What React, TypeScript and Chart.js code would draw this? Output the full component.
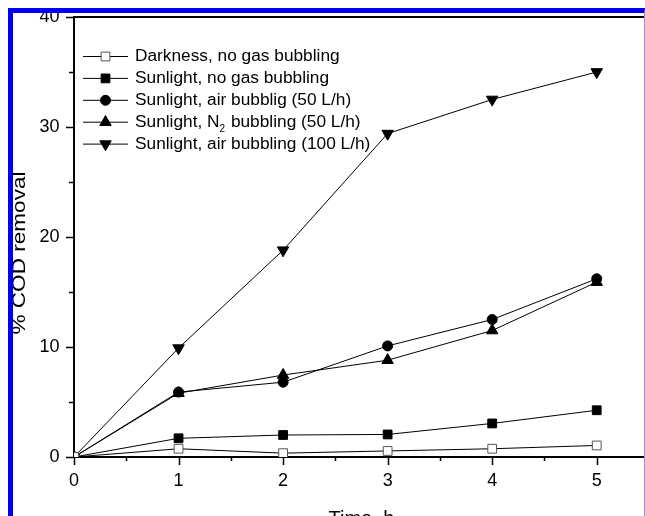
import React, { useEffect, useRef } from 'react';
import { Chart, registerables } from 'chart.js';

Chart.register(...registerables);

const hours = [0, 1, 2, 3, 4, 5];
const darkness = [0, 0.75, 0.35, 0.55, 0.75, 1.05];
const sunNoGas = [0, 1.7, 2.0, 2.05, 3.05, 4.25];
const sunAir50 = [0, 5.9, 6.8, 10.1, 12.5, 16.2];
const sunN2 = [0, 5.8, 7.45, 8.8, 11.5, 15.9];
const sunAir100 = [0, 9.9, 18.8, 29.4, 32.5, 35.0];
const seriesLabels = [
  'Darkness, no gas bubbling',
  'Sunlight, no gas bubbling',
  'Sunlight, air bubblig (50 L/h)',
  'Sunlight, N₂ bubbling (50 L/h)',
  'Sunlight, air bubbling (100 L/h)',
];
const xTicks = [0, 1, 2, 3, 4, 5];
const yTicks = [0, 10, 20, 30, 40];
const xTitle = 'Time, h';
const yTitle = '% COD removal';

const FONT = "'Liberation Sans', Arial, sans-serif";

type Marker = { style: string; rotation: number; radius: number; fill: string; stroke: string };

function drawMarker(ctx: CanvasRenderingContext2D, x: number, y: number, m: Marker) {
  ctx.save();
  ctx.fillStyle = m.fill;
  ctx.strokeStyle = m.stroke;
  ctx.lineWidth = 1;
  ctx.beginPath();
  const r = m.radius;
  if (m.style === 'rect') {
    const s = Math.SQRT1_2 * r;
    ctx.rect(x - s, y - s, 2 * s, 2 * s);
  } else if (m.style === 'circle') {
    ctx.arc(x, y, r, 0, Math.PI * 2);
  } else if (m.style === 'triangle') {
    let rad = (m.rotation * Math.PI) / 180;
    ctx.moveTo(x + Math.sin(rad) * r, y - Math.cos(rad) * r);
    rad += (2 * Math.PI) / 3;
    ctx.lineTo(x + Math.sin(rad) * r, y - Math.cos(rad) * r);
    rad += (2 * Math.PI) / 3;
    ctx.lineTo(x + Math.sin(rad) * r, y - Math.cos(rad) * r);
    ctx.closePath();
  }
  ctx.fill();
  ctx.stroke();
  ctx.restore();
}

const legendPlugin = {
  id: 'lineMarkerLegend',
  afterDatasetsDraw(chart: any) {
    const { ctx, chartArea: a } = chart;
    ctx.save();
    chart.data.datasets.forEach((ds: any, i: number) => {
      const yy = a.top + 39.5 + i * 21.9;
      const x0 = a.left + 9;
      const x1 = a.left + 54;
      ctx.strokeStyle = '#000';
      ctx.lineWidth = 1;
      ctx.beginPath();
      ctx.moveTo(x0, yy);
      ctx.lineTo(x1, yy);
      ctx.stroke();
      drawMarker(ctx, (x0 + x1) / 2, yy, {
        style: ds.pointStyle,
        rotation: ds.pointRotation || 0,
        radius: ds.pointRadius,
        fill: ds.pointBackgroundColor,
        stroke: ds.pointBorderColor,
      });
      ctx.fillStyle = '#000';
      ctx.textBaseline = 'middle';
      ctx.textAlign = 'left';
      const label: string = ds.label;
      const parts = label.split('₂');
      let tx = a.left + 61;
      ctx.font = `17.3px ${FONT}`;
      parts.forEach((p, k) => {
        if (k > 0) {
          ctx.font = `10px ${FONT}`;
          ctx.fillText('2', tx, yy + 7);
          tx += ctx.measureText('2').width + 1;
          ctx.font = `17.3px ${FONT}`;
        }
        ctx.fillText(p, tx, yy);
        tx += ctx.measureText(p).width;
      });
    });
    ctx.restore();
  },
};

const axisDecor = {
  id: 'axisDecor',
  afterDraw(chart: any) {
    const { ctx, chartArea: a, scales } = chart;
    const x = scales.x;
    const y = scales.y;
    ctx.save();
    ctx.strokeStyle = '#000';
    ctx.lineWidth = 2;
    ctx.beginPath();
    ctx.moveTo(a.left - 1, a.top);
    ctx.lineTo(a.right, a.top);
    ctx.stroke();
    ctx.lineWidth = 1.5;
    for (let v = 0; v <= 40; v += 5) {
      const py = Math.round(y.getPixelForValue(v)) + 0.5;
      const len = v % 10 === 0 ? 8 : 5;
      ctx.beginPath();
      ctx.moveTo(a.left - len, py);
      ctx.lineTo(a.left, py);
      ctx.stroke();
    }
    for (let v = 0; v <= 5.5; v += 0.5) {
      const px = Math.round(x.getPixelForValue(v)) + 0.5;
      const len = Number.isInteger(v) ? 8 : 4;
      ctx.beginPath();
      ctx.moveTo(px, a.bottom);
      ctx.lineTo(px, a.bottom + len);
      ctx.stroke();
    }
    // y axis title (stretched along its length like the original)
    ctx.save();
    ctx.translate(20, (a.top + a.bottom) / 2 + 16);
    ctx.rotate(-Math.PI / 2);
    ctx.scale(1.22, 1);
    ctx.font = `18.5px ${FONT}`;
    ctx.fillStyle = '#000';
    ctx.textAlign = 'center';
    ctx.textBaseline = 'middle';
    ctx.fillText(yTitle, 0, 0);
    ctx.restore();
    ctx.restore();
  },
};

function mk(label: string, data: number[], style: string, fill: string, radius: number, rotation = 0) {
  return {
    label,
    data: hours.map((h, i) => ({ x: h, y: data[i] })),
    borderColor: '#000',
    borderWidth: 1,
    pointStyle: style,
    pointRotation: rotation,
    pointRadius: radius,
    pointBackgroundColor: fill,
    pointBorderColor: fill === '#fff' ? '#555' : '#000',
    pointBorderWidth: 1,
    fill: false,
    tension: 0,
  };
}

export default function App() {
  const ref = useRef<HTMLCanvasElement>(null);
  useEffect(() => {
    if (!ref.current) return;
    const chart = new Chart(ref.current, {
      type: 'line',
      data: {
        datasets: [
          mk(seriesLabels[0], darkness, 'rect', '#fff', 6.2),
          mk(seriesLabels[1], sunNoGas, 'rect', '#000', 6.2),
          mk(seriesLabels[2], sunAir50, 'circle', '#000', 5),
          mk(seriesLabels[3], sunN2, 'triangle', '#000', 6.6),
          mk(seriesLabels[4], sunAir100, 'triangle', '#000', 6.6, 180),
        ] as any,
      },
      options: {
        animation: false,
        responsive: false,
        devicePixelRatio: 1,
        layout: { padding: { left: 0, top: 17, right: 51, bottom: 9 } },
        plugins: { legend: { display: false }, tooltip: { enabled: false } },
        scales: {
          x: {
            type: 'linear',
            min: 0,
            max: 5.5,
            afterBuildTicks: (s: any) => {
              s.ticks = xTicks.map((v) => ({ value: v }));
            },
            afterFit: (s: any) => {
              s.height = 74;
              s.paddingLeft = 0;
              s.paddingRight = 0;
            },
            grid: { display: false, drawTicks: false },
            border: { display: true, color: '#000', width: 2 },
            ticks: { color: '#000', padding: 13, font: { family: FONT, size: 18 }, maxRotation: 0 },
            title: { display: true, text: xTitle, color: '#000', font: { family: FONT, size: 20 }, padding: { top: 0, bottom: 0 } },
          },
          y: {
            type: 'linear',
            min: 0,
            max: 40,
            afterBuildTicks: (s: any) => {
              s.ticks = yTicks.map((v) => ({ value: v }));
            },
            afterFit: (s: any) => {
              s.width = 74;
              s.paddingTop = 0;
              s.paddingBottom = 0;
            },
            grid: { display: false, drawTicks: false },
            border: { display: true, color: '#000', width: 2 },
            ticks: { color: '#000', padding: 14.5, font: { family: FONT, size: 18 } },
            title: { display: false, text: yTitle },
          },
        },
      } as any,
      plugins: [axisDecor, legendPlugin],
    });
    return () => chart.destroy();
  }, []);

  return (
    <div style={{ position: 'fixed', left: 0, top: 0, width: 645, height: 516, overflow: 'hidden', background: '#fff' }}>
      <canvas ref={ref} width={700} height={540} style={{ position: 'absolute', left: 0, top: 0, width: 700, height: 540 }} />
      <div
        style={{
          position: 'absolute',
          left: 8,
          top: 8,
          width: 631,
          height: 600,
          borderLeft: '5px solid #0000f0',
          borderTop: '5px solid #0000f0',
          borderRight: '1px solid #8c8cff',
          boxSizing: 'content-box',
          pointerEvents: 'none',
        }}
      />
    </div>
  );
}
